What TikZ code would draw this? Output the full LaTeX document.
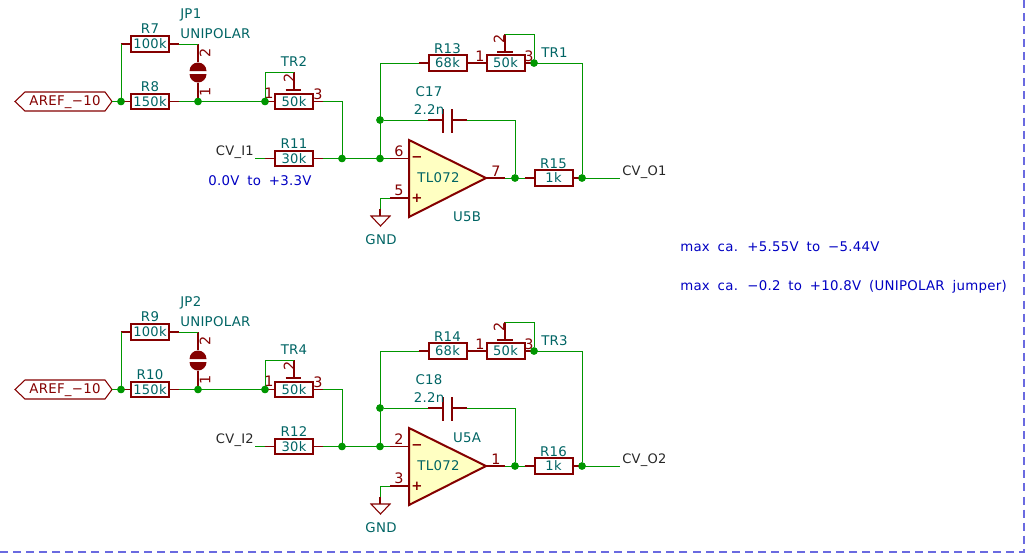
\documentclass[tikz,border=0pt]{standalone}
\usepackage{fontspec}
\setmainfont{DejaVu Sans}[LetterSpace=2]
\definecolor{pinred}{HTML}{840000}
\definecolor{wiregreen}{HTML}{009600}
\definecolor{fieldteal}{HTML}{006464}
\definecolor{noteblue}{HTML}{0000C2}
\definecolor{opfill}{HTML}{FFFFC2}
\definecolor{sheetblue}{HTML}{6A6AE0}
\newcommand\notefont{\fontsize{10}{10}\selectfont}
\newcommand\widespaces[1]{\spaceskip=5.9pt\relax #1}
\tikzset{
  x=0.75pt,y=-0.75pt,
  wire/.style={draw=wiregreen,line width=0.75pt,line join=miter},
  pinline/.style={draw=pinred,line width=1.1pt},
  resbox/.style={draw=pinred,line width=1.5pt,fill=white,rectangle,inner sep=0pt,outer sep=0pt,minimum width=28.5pt,minimum height=11.5pt,text=fieldteal,font=\fontsize{9.8}{10}\selectfont},
  junc/.style={circle,fill=wiregreen,inner sep=0pt,minimum size=5.6pt},
  field/.style={text=fieldteal,inner sep=0pt,font=\fontsize{10}{10}\selectfont},
  pinnum/.style={text=pinred,inner sep=0pt,font=\fontsize{10.8}{10}\selectfont},
  sig/.style={text=black!85,inner sep=0pt,font=\fontsize{9.8}{10}\selectfont},
  note/.style={text=noteblue,inner sep=0pt,font=\notefont},
  hier/.style={text=pinred,inner sep=0pt,font=\fontsize{10}{10}\selectfont},
}
% name, x, y, value, ref
\newcommand\resistor[5]{%
  \node[resbox] (#1) at (#2,#3) {#4};
  \coordinate (#1-l) at ([xshift=-7.5pt]#1.west);
  \coordinate (#1-r) at ([xshift=7.5pt]#1.east);
  \draw[pinline] (#1-l) -- (#1.west) (#1.east) -- (#1-r);
}
\newcommand\block[1]{%
\begin{scope}[shift={(0,#1)}]
  \coordinate (w-top) at (121,44);
  \node[junc] (j-in) at (121,101.5) {};
  \node[junc] (j-jp) at (198,101.5) {};
  \node[junc] (j-tr) at (265,101.5) {};
  \node[junc] (j-sum) at (342,158.5) {};
  \node[junc] (j-inv) at (380,158.5) {};
  \node[junc] (j-cap) at (380,120) {};
  \node[junc] (j-out) at (515,178) {};
  \node[junc] (j-fb) at (582,178) {};
  \node[junc] (j-wip) at (534,63) {};
  \resistor{ra}{150}{44}{100k}{}
  \resistor{rb}{150}{101.5}{150k}{}
  \resistor{rc}{294}{101.5}{50k}{}
  \resistor{rd}{294}{158.5}{30k}{}
  \resistor{re}{447.5}{63}{68k}{}
  \resistor{rf}{505.5}{63}{50k}{}
  \resistor{rg}{553.5}{178}{1k}{}
  \node[field] (ra-ref) at (150,29) {\RefA};
  \node[field] (rb-ref) at (150,86.5) {\RefB};
  \node[field] (rd-ref) at (294,144) {\RefD};
  \node[field] (re-ref) at (447.5,48.5) {\RefE};
  \node[field] (rg-ref) at (553.5,163.5) {\RefG};
  % hierarchical label
  \node[hier] (aref) at (65,102.5) {AREF\_−10};
  \coordinate (ha) at (15,101.5);
  \coordinate (hb) at (25,92);
  \coordinate (hc) at (105,92);
  \coordinate (hd) at (112,101.5);
  \coordinate (he) at (105,111);
  \coordinate (hf) at (25,111);
  \draw[draw=pinred,line width=0.8pt] (ha) -- (hb) -- (hc) -- (hd) -- (he) -- (hf) -- cycle;
  % jumper
  \coordinate (jp-a) at (198,44);
  \coordinate (jp-b) at (198,62);
  \coordinate (jp-c) at (198,83);
  \draw[pinline] (jp-a) -- (jp-b) (jp-c) -- (j-jp);
  \fill[pinred] (189.5,71) arc[start angle=180,end angle=360,radius=8.5] -- cycle;
  \fill[pinred] (189.5,74) arc[start angle=180,end angle=0,radius=8.5] -- cycle;
  \node[field,anchor=west] (jp-ref) at (180,15) {\RefJ};
  \node[field,anchor=west] (jp-val) at (180,34) {UNIPOLAR};
  \node[pinnum,rotate=90] (jp-2) at (205,53) {2};
  \node[pinnum,rotate=90] (jp-1) at (205,92) {1};
  % TR input
  \coordinate (tr-t) at (294,72);
  \coordinate (tr-b) at (294,90);
  \draw[pinline] (tr-t) -- (tr-b);
  \draw[draw=pinred,line width=0.9pt] (285.5,90) -- (301,90);
  \node[field] (tr-ref) at (294,62) {\RefC};
  \node[pinnum] (tr-1) at (269,93) {1};
  \node[pinnum,rotate=90] (tr-2) at (289,78) {2};
  \node[pinnum] (tr-3) at (318,94) {3};
  % TR feedback
  \coordinate (tf-t) at (505,34);
  \coordinate (tf-b) at (505,52);
  \draw[pinline] (tf-t) -- (tf-b);
  \draw[draw=pinred,line width=0.9pt] (497,52) -- (513,52);
  \node[field,anchor=west] (tf-ref) at (541,53) {\RefF};
  \node[pinnum] (tf-1) at (480,56) {1};
  \node[pinnum,rotate=90] (tf-2) at (499,39) {2};
  \node[pinnum] (tf-3) at (529,56) {3};
  % capacitor
  \coordinate (c-l) at (428,120);
  \coordinate (c-a) at (443,120);
  \coordinate (c-b) at (452,120);
  \coordinate (c-r) at (467,120);
  \draw[pinline] (c-l) -- (c-a) (c-b) -- (c-r);
  \draw[draw=pinred,line width=1.5pt] (443,109) -- (443,133) (452,109) -- (452,133);
  \node[field] (c-ref) at (429,92) {\RefK};
  \node[field] (c-val) at (429,110) {2.2n};
  % op amp
  \coordinate (o-m) at (390,158.5);
  \coordinate (o-mi) at (409,158.5);
  \coordinate (o-p) at (390,198);
  \coordinate (o-pi) at (409,198);
  \coordinate (o-o) at (486,178);
  \coordinate (o-oo) at (505,178);
  \draw[pinline] (o-m) -- (o-mi) (o-p) -- (o-pi) (o-o) -- (o-oo);
  \draw[draw=pinred,fill=opfill,line width=1.5pt,line join=miter] (409,140) -- (486,178) -- (409,217) -- cycle;
  \node[field] (o-val) at (438.5,178) {TL072};
  \node[field] (o-ref) at \RefUpos {\RefU};
  \node[text=pinred,inner sep=0pt,font=\fontsize{10}{10}\selectfont\bfseries] (o-minus) at (417,159) {−};
  \node[text=pinred,inner sep=0pt,font=\fontsize{10}{10}\selectfont\bfseries] (o-plus) at (417,198) {+};
  \node[pinnum] (p-m) at (399,151.5) {\PinM};
  \node[pinnum] (p-p) at (399,190.5) {\PinP};
  \node[pinnum] (p-o) at (496,171) {\PinO};
  % GND
  \coordinate (g-t) at (380,216);
  \coordinate (g-w) at (380,209);
  \draw[pinline,line width=0.8pt] (g-w) -- (g-t);
  \draw[draw=pinred,line width=0.8pt] (371,216) -- (390,216) -- (380.5,226) -- cycle;
  \node[field] (g-txt) at (381,240) {GND};
  % signals
  \coordinate (cvi) at (255,158.5);
  \coordinate (cvo) at (620,178);
  \node[sig,anchor=east] (cvi-t) at (254,152.5) {\SigI};
  \node[sig,anchor=west] (cvo-t) at (622,172.5) {\SigO};
  % wires
  \draw[wire] (hd) -- (rb-l);
  \draw[wire] (ra-l) -| (rb-l);
  \draw[wire] (ra-r) -- (jp-a);
  \draw[wire] (rb-r) -- (rc-l);
  \draw[wire] (rc-l) |- (tr-t);
  \draw[wire] (rc-r) -| (j-sum);
  \draw[wire] (cvi) -- (rd-l);
  \draw[wire] (rd-r) -- (o-m);
  \draw[wire] (j-inv) |- (re-l);
  \draw[wire] (j-cap) -- (c-l);
  \draw[wire] (c-r) -| (j-out);
  \draw[wire] (o-oo) -- (rg-l);
  \draw[wire] (rg-r) -- (cvo);
  \draw[wire] (j-wip) |- (tf-t);
  \draw[wire] (rf-r) -- (j-wip);
  \draw[wire] (j-wip) -| (j-fb);
  \draw[wire] (o-p) -| (g-w);
  \draw[pinline] (re-r) -- (rf-l);
  \foreach \j in {j-in,j-jp,j-tr,j-sum,j-inv,j-cap,j-out,j-fb,j-wip} \node[junc] at (\j) {};
\end{scope}}
\begin{document}
\begin{tikzpicture}
\useasboundingbox (0,0) rectangle (1027,558);
\coordinate (b-a) at (1024,0);
\coordinate (b-c) at (1024,552);
\coordinate (b-d) at (0,552);
\draw[draw=sheetblue,line width=1.5pt,dash pattern=on 6pt off 3.8pt] (b-a) -- (b-c) -- (b-d);
\def\RefA{R7}\def\RefB{R8}\def\RefC{TR2}\def\RefD{R11}\def\RefE{R13}\def\RefF{TR1}\def\RefG{R15}\def\RefJ{JP1}\def\RefK{C17}\def\RefU{U5B}\def\RefUpos{(467,217)}\def\PinM{6}\def\PinP{5}\def\PinO{7}\def\SigI{CV\_I1}\def\SigO{CV\_O1}
\block{0}
\def\RefA{R9}\def\RefB{R10}\def\RefC{TR4}\def\RefD{R12}\def\RefE{R14}\def\RefF{TR3}\def\RefG{R16}\def\RefJ{JP2}\def\RefK{C18}\def\RefU{U5A}\def\RefUpos{(467,150)}\def\PinM{2}\def\PinP{3}\def\PinO{1}\def\SigI{CV\_I2}\def\SigO{CV\_O2}
\block{288}
\node[note] (n1) at (260,180.5) {\widespaces{0.0V to +3.3V}};
\node[note,anchor=west] (n2) at (680,247) {\widespaces{max ca. +5.55V to −5.44V}};
\node[note,anchor=west] (n3) at (680,287) {\widespaces{max ca. −0.2 to +10.8V (UNIPOLAR jumper)}};
\end{tikzpicture}
\end{document}
